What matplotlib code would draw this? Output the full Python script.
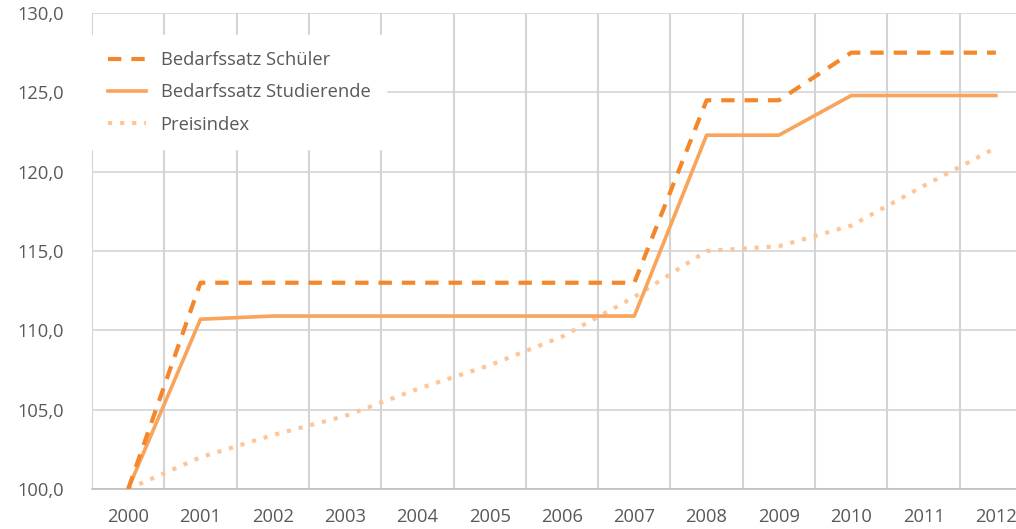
import matplotlib
matplotlib.use("Agg")
import matplotlib.pyplot as plt

# data
years = [2000, 2001, 2002, 2003, 2004, 2005, 2006, 2007, 2008, 2009, 2010, 2011, 2012]
schueler = [100.0, 113.0, 113.0, 113.0, 113.0, 113.0, 113.0, 113.0, 124.5, 124.5, 127.5, 127.5, 127.5]
studierende = [100.0, 110.7, 110.9, 110.9, 110.9, 110.9, 110.9, 110.9, 122.3, 122.3, 124.8, 124.8, 124.8]
preisindex = [100.0, 102.0, 103.4, 104.6, 106.3, 107.8, 109.6, 112.1, 115.0, 115.3, 116.6, 119.1, 121.5]
yticks = [100, 105, 110, 115, 120, 125, 130]

plt.rcParams['font.family'] = ['Open Sans', 'DejaVu Sans']
textcol = '#595959'
gridcol = '#d4d4d4'

fig = plt.figure(figsize=(10.16, 5.29), dpi=100)
ax = fig.add_axes([92 / 1016, 1 - 489 / 529, (1032 - 92) / 1016, (489 - 13) / 529])

x = list(range(len(years)))
ax.plot(x, schueler, color='#f5862a', lw=3.0, dashes=(3.2, 2.4), label='Bedarfssatz Schüler',
        solid_capstyle='butt', dash_capstyle='butt', zorder=4)
ax.plot(x, studierende, color='#f9a35b', lw=2.6, label='Bedarfssatz Studierende', zorder=3)
ax.plot(x, preisindex, color='#fdc69a', lw=3.0, dashes=(1.0, 1.9), label='Preisindex',
        dash_capstyle='butt', zorder=2)

ax.set_xlim(-0.5, len(years) - 0.5)
ax.set_ylim(100, 130)
ax.set_xticks(x)
ax.set_xticklabels([str(y) for y in years])
ax.set_xticks([i - 0.5 for i in range(len(years) + 1)], minor=True)
ax.set_yticks(yticks)
ax.set_yticklabels([f'{v:.1f}'.replace('.', ',') for v in yticks])

ax.grid(axis='x', which='minor', color=gridcol, lw=1.5)
ax.grid(axis='y', which='major', color=gridcol, lw=1.2)
ax.tick_params(axis='both', which='both', length=0, labelsize=13.2, colors=textcol)
ax.tick_params(axis='x', pad=14)
ax.tick_params(axis='y', pad=20)
for side in ['top', 'right', 'left']:
    ax.spines[side].set_visible(False)
ax.spines['bottom'].set_color('#bfbfbf')
ax.spines['bottom'].set_linewidth(1.2)
ax.set_axisbelow(True)

leg = ax.legend(loc='upper left', bbox_to_anchor=(0.0, 0.953), frameon=True, fontsize=13.2,
                handlelength=2.1, handletextpad=0.8, labelspacing=0.78, borderpad=0.85,
                fancybox=False, borderaxespad=0.0)
leg.get_frame().set_facecolor('white')
leg.get_frame().set_edgecolor('white')
leg.get_frame().set_alpha(1.0)
for t in leg.get_texts():
    t.set_color(textcol)

fig.savefig('out.png', dpi=100)
